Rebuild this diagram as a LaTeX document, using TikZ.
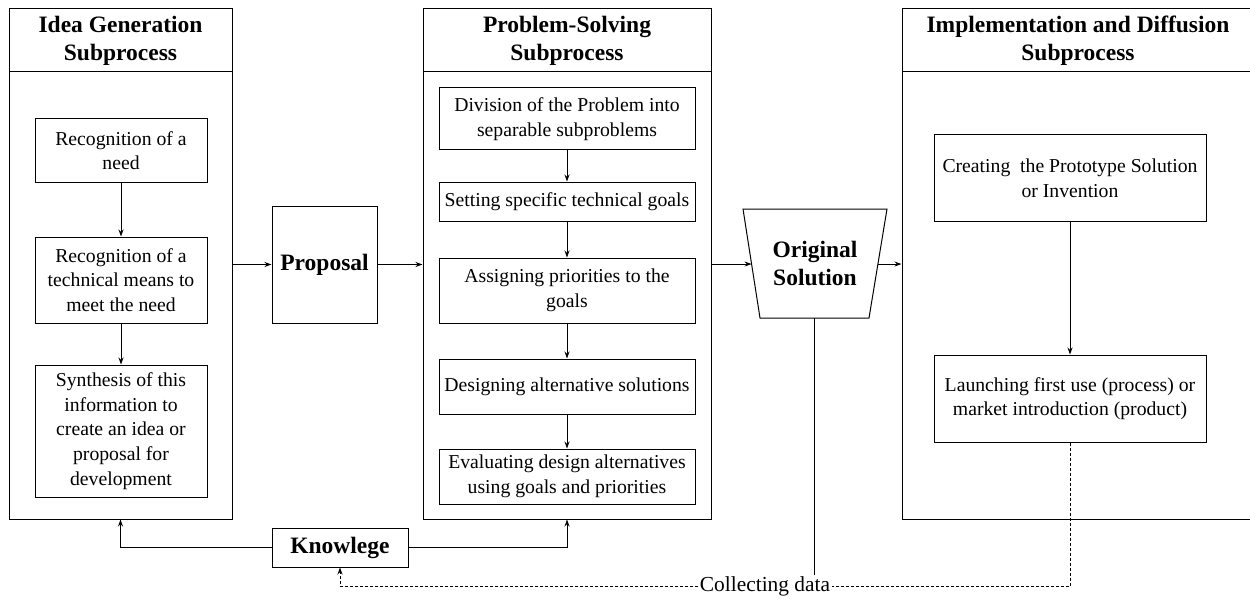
\documentclass[tikz,border=0pt]{standalone}
\usepackage{fontspec}
\setmainfont{Liberation Serif}
\usetikzlibrary{arrows.meta,calc}
\begin{document}
\begin{tikzpicture}[x=1pt,y=-1pt,
  line width=1pt,
  box/.style={draw, rectangle, inner sep=0pt, align=center,
    font=\fontsize{19.7}{24.6}\selectfont},
  frame/.style={draw, rectangle, inner sep=0pt},
  head/.style={draw, rectangle, inner sep=0pt, align=center,
    font=\fontsize{23.5}{28}\selectfont\bfseries},
  bold/.style={inner sep=0pt, align=center,
    font=\fontsize{23.5}{28}\selectfont\bfseries},
  flow/.style={-{Stealth[length=7pt,width=5pt]}},
  dashline/.style={dash pattern=on 3pt off 2pt}
]
\useasboundingbox (0,0) rectangle (1250,599);

% --- subprocess frames (header + body)
\node[head, minimum width=223pt, minimum height=63pt] (igH) at (120.5,40.5) {Idea Generation\\Subprocess};
\node[frame, minimum width=223pt, minimum height=447pt] (igB) at (120.5,295.5) {};

\node[head, minimum width=288pt, minimum height=63pt] (psH) at (567,40.5) {Problem-Solving\\Subprocess};
\node[frame, minimum width=288pt, minimum height=447pt] (psB) at (567,295.5) {};

\node[head, minimum width=352pt, minimum height=63pt] (idH) at (1078,40.5) {Implementation and Diffusion\\Subprocess};
\node[frame, minimum width=352pt, minimum height=447pt] (idB) at (1078,295.5) {};

% --- idea generation steps
\node[box, minimum width=172pt, minimum height=63pt] (n1) at (121,150.5) {Recognition of a\\need};
\node[box, minimum width=172pt, minimum height=86pt] (n2) at (121,280) {Recognition of a\\technical means to\\meet the need};
\node[box, minimum width=172pt, minimum height=132pt] (n3) at (121,431) {Synthesis of this\\information to\\create an idea or\\proposal for\\development};

% --- problem solving steps
\node[box, minimum width=256pt, minimum height=62pt] (m1) at (567,119) {Division of the Problem into\\separable subproblems};
\node[box, minimum width=256pt, minimum height=39pt] (m2) at (567,201.5) {Setting specific technical goals};
\node[box, minimum width=256pt, minimum height=65pt] (m3) at (567,290.5) {Assigning priorities to the\\goals};
\node[box, minimum width=256pt, minimum height=55pt] (m4) at (567,386.5) {Designing alternative solutions};
\node[box, minimum width=256pt, minimum height=55pt] (m5) at (567,476.5) {Evaluating design alternatives\\using goals and priorities};

% --- implementation steps
\node[box, minimum width=272pt, minimum height=86pt] (r1) at (1070,178) {Creating~ the Prototype Solution\\or Invention};
\node[box, minimum width=272pt, minimum height=87pt] (r2) at (1070,398.5) {Launching first use (process) or\\market introduction (product)};

% --- intermediate results
\node[bold, draw, rectangle, minimum width=105pt, minimum height=117pt] (prop) at (324.5,264.5) {Proposal};
\node[bold, draw, rectangle, minimum width=136pt, minimum height=39pt] (kn) at (340,547.5) {Knowlege};

% original solution: inverted trapezoid with its text
\coordinate (osTL) at (743,209);
\coordinate (osTR) at (887,209);
\coordinate (osBR) at (869,318);
\coordinate (osBL) at (760,318);
\draw (osTL) -- (osTR) -- (osBR) -- (osBL) -- cycle;
\node[bold] (os) at (815,263.5) {Original\\Solution};
\coordinate (osW) at ($(osTL)!0.505!(osBL)$);
\coordinate (osE) at ($(osTR)!0.505!(osBR)$);
\coordinate (osS) at ($(osBL)!0.5!(osBR)$);

\node[inner sep=1pt, font=\fontsize{21.4}{26}\selectfont] (cd) at (765,586) {Collecting data};

% --- main flow
\draw[flow] (igB.east |- prop.west) -- (prop.west);
\draw[flow] (prop.east) -- (psB.west |- prop.east);
\draw[flow] (psB.east |- osW) -- (osW);
\draw[flow] (osE) -- (idB.west |- osE);

\draw[flow] (n1) -- (n2);
\draw[flow] (n2) -- (n3);
\draw[flow] (m1) -- (m2);
\draw[flow] (m2) -- (m3);
\draw[flow] (m3) -- (m4);
\draw[flow] (m4) -- (m5);
\draw[flow] (r1) -- (r2);

% --- knowledge feeding both subprocesses
\draw[flow] (kn.west) -| (igB.south);
\draw[flow] (kn.east) -| (psB.south);

% --- feedback through data collection
\draw (osS) -- (osS |- cd.north);
\draw[dashline] (r2.south) |- (cd.east);
\draw[dashline, flow] (cd.west) -| (kn.south);
\end{tikzpicture}
\end{document}
